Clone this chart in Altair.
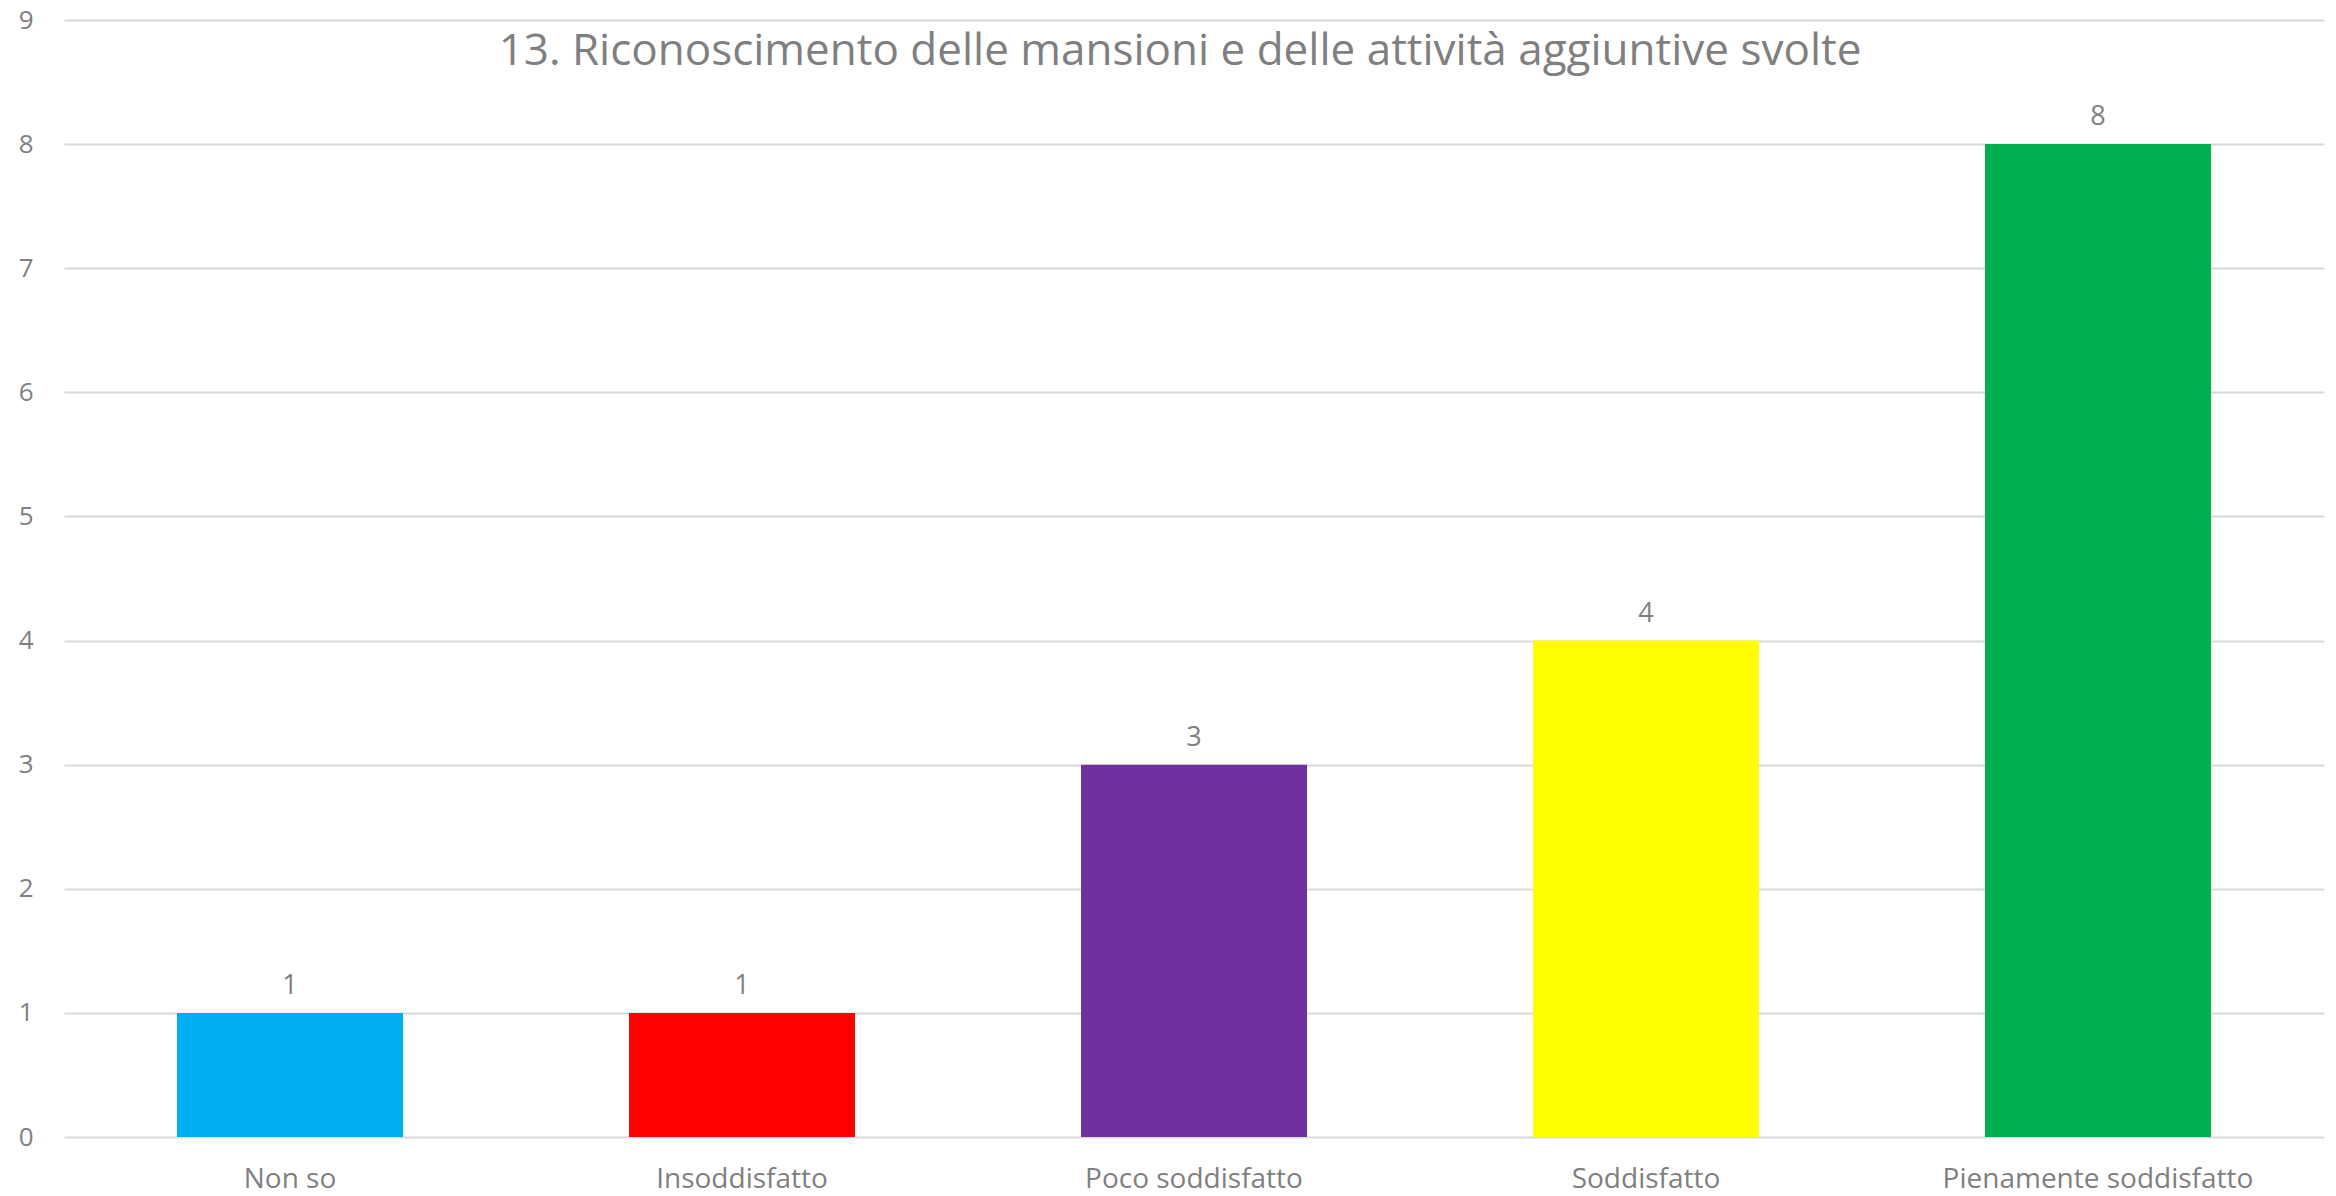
import altair as alt
import pandas as pd

categories = ["Non so", "Insoddisfatto", "Poco soddisfatto", "Soddisfatto", "Pienamente soddisfatto"]
values = [1, 1, 3, 4, 8]
colors = ["#00B0F0", "#FF0000", "#7030A0", "#FFFF00", "#00B050"]
y_ticks = list(range(0, 10))
title_text = "13. Riconoscimento delle mansioni e delle attività aggiuntive svolte"

df = pd.DataFrame({"cat": categories, "val": values, "col": colors})

FONT = "Open Sans"
GRAY = "#7F7F7F"

x_enc = alt.X("cat:N", sort=categories,
              scale=alt.Scale(paddingInner=0.5, paddingOuter=0.25),
              axis=alt.Axis(title=None, labelAngle=0, labelFont=FONT, labelFontSize=28,
                            labelColor=GRAY, labelPadding=28, ticks=False, domain=False,
                            grid=False, labelBaseline="top", labelLimit=0))
y_enc = alt.Y("val:Q", scale=alt.Scale(domain=[0, 9], nice=False),
              axis=alt.Axis(title=None, values=y_ticks, format="d", labelFont=FONT,
                            labelFontSize=26, labelColor=GRAY, labelPadding=31,
                            ticks=False, domain=False,
                            grid=True, gridColor="#D9D9D9", gridWidth=2))

bars = alt.Chart(df).mark_bar().encode(
    x=x_enc, y=y_enc,
    color=alt.Color("col:N", scale=None),
)
labels = alt.Chart(df).mark_text(font=FONT, fontSize=27, color=GRAY,
                                 baseline="alphabetic", dy=-19).encode(
    x=alt.X("cat:N", sort=categories), y="val:Q", text="val:Q")

chart = (bars + labels).properties(
    width=2260, height=1117,
    autosize=alt.AutoSizeParams(type="none"),
    padding={"left": 56, "top": 12, "right": 4, "bottom": 60},
    title=alt.TitleParams(title_text, font=FONT, fontSize=44, fontWeight="normal",
                          color=GRAY, anchor="middle", baseline="alphabetic",
                          offset=-39, dy=63, dx=-14),
).configure_view(stroke=None)

chart.save("out.html", embed_options={"renderer": "svg", "actions": False})
